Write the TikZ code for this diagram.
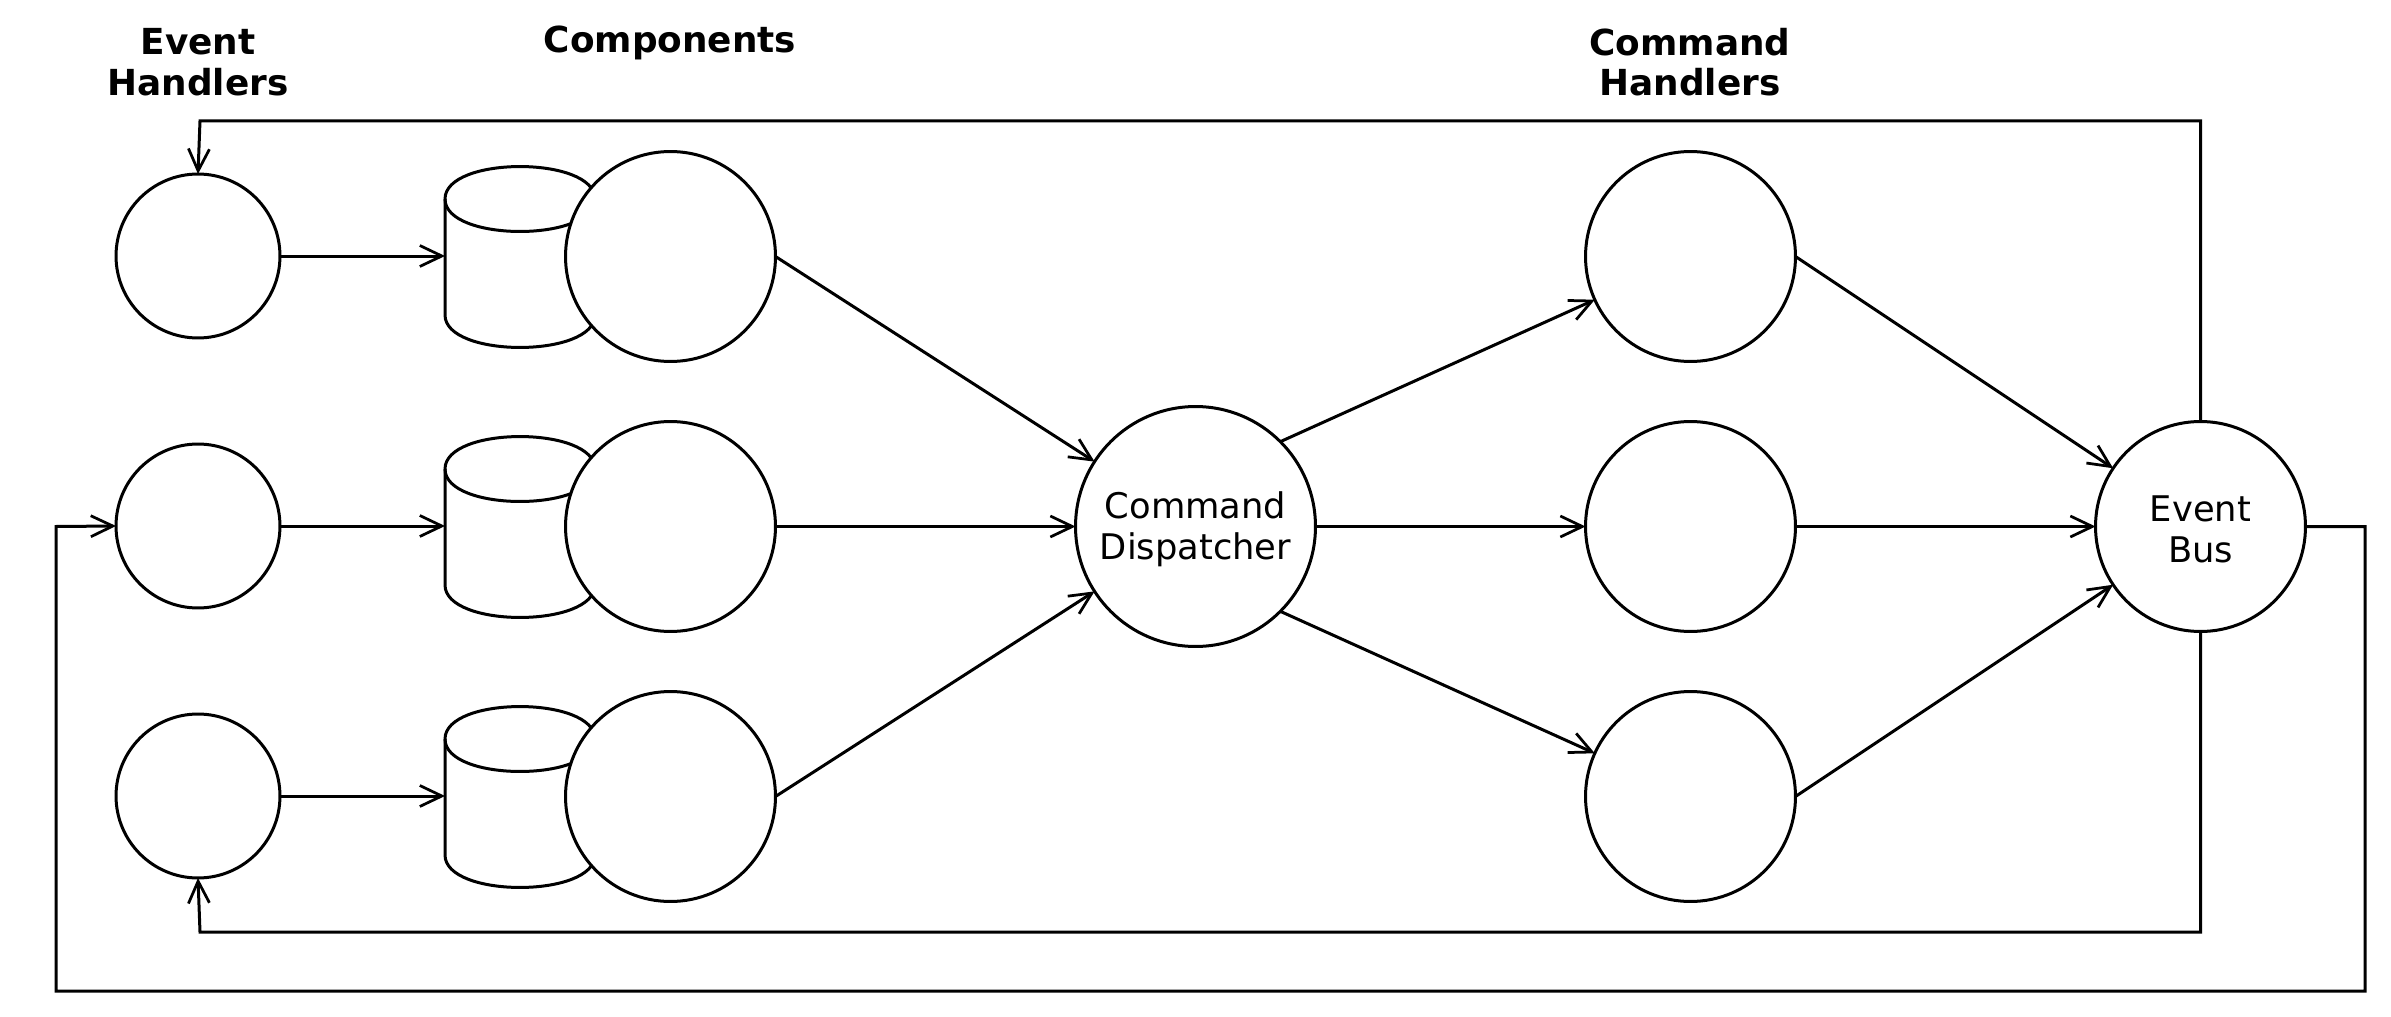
\documentclass[tikz,border=0pt]{standalone}
\usepackage{fontspec}
\setmainfont{DejaVu Sans}
\usetikzlibrary{arrows.meta}
\tikzset{
  x=0.02cm,y=-0.02cm,
  conn/.style={line width=0.06cm,-{Straight Barb[length=0.44cm,width=0.42cm,line width=0.055cm]}},
  evh/.style={circle,draw,line width=0.06cm,fill=white,minimum size=3.28cm,inner sep=0pt,outer sep=0pt},
  cmp/.style={circle,draw,line width=0.06cm,fill=white,minimum size=4.2cm,inner sep=0pt,outer sep=0pt},
  disp/.style={cmp,minimum size=4.8cm},
  lbl/.style={align=center,inner sep=0pt,yshift=-0.06cm,font=\fontsize{20.1pt}{23.2pt}\selectfont},
  store/.style={rectangle,minimum width=3cm,minimum height=3.62cm,inner sep=0pt,outer sep=0pt},
  drum/.style={draw,line width=0.06cm,fill=white},
  head/.style={align=center,inner sep=0pt,font=\fontsize{20.4pt}{23pt}\selectfont\bfseries}
}
\newcommand{\drumat}[1]{%
  \draw[drum] ([yshift=-0.65cm]#1.north west)
    .. controls ([yshift=0.216cm]#1.north west) and ([yshift=0.216cm]#1.north east) .. ([yshift=-0.65cm]#1.north east)
    -- ([yshift=0.65cm]#1.south east)
    .. controls ([yshift=-0.216cm]#1.south east) and ([yshift=-0.216cm]#1.south west) .. ([yshift=0.65cm]#1.south west)
    -- cycle;
  \draw[line width=0.06cm] ([yshift=-0.65cm]#1.north west)
    .. controls ([yshift=-1.516cm]#1.north west) and ([yshift=-1.516cm]#1.north east) .. ([yshift=-0.65cm]#1.north east);
}
\begin{document}
\begin{tikzpicture}
\useasboundingbox (0,0) rectangle (2391,1017);
\fill[white] (0,0) rectangle (2391,1017);
\node[head] (t1) at (198,62) {Event\\Handlers};
\node[head] (t2) at (670,43) {Components};
\node[head] (t3) at (1690,62) {Command\\Handlers};

\node[evh] (e1) at (198,256) {};
\node[evh] (e2) at (198,526) {};
\node[evh] (e3) at (198,796) {};

\node[store] (s1) at (520,257) {};
\node[store] (s2) at (520,527) {};
\node[store] (s3) at (520,797) {};
\drumat{s1}\drumat{s2}\drumat{s3}

\node[cmp] (c1) at (670.5,256.5) {};
\node[cmp] (c2) at (670.5,526.5) {};
\node[cmp] (c3) at (670.5,796.5) {};

\node[disp,label={[lbl]center:{Command\\Dispatcher}}] (d) at (1195.5,526.5) {};

\node[cmp] (h1) at (1690.5,256.5) {};
\node[cmp] (h2) at (1690.5,526.5) {};
\node[cmp] (h3) at (1690.5,796.5) {};

\node[cmp,label={[lbl]center:{Event\\Bus}}] (b) at (2200.5,526.5) {};

\coordinate (tl) at (200,121);
\coordinate (tr) at (2200.5,121);
\coordinate (ml) at (200,932);
\coordinate (mr) at (2200.5,932);
\coordinate (r1) at (2365,526.5);
\coordinate (r2) at (2365,991);
\coordinate (l2) at (56,991);
\coordinate (l1) at (56,526.5);

\draw[conn] (e1.east) -- (s1.west |- e1.east);
\draw[conn] (e2.east) -- (s2.west |- e2.east);
\draw[conn] (e3.east) -- (s3.west |- e3.east);

\draw[conn] (c1.east) -- (d);
\draw[conn] (c2.east) -- (d.west);
\draw[conn] (c3.east) -- (d);

\draw[conn] (d.45) -- (h1);
\draw[conn] (d.east) -- (h2.west);
\draw[conn] (d.-45) -- (h3);

\draw[conn] (h1.east) -- (b);
\draw[conn] (h2.east) -- (b.west);
\draw[conn] (h3.east) -- (b);

\draw[conn] (b.north) -- (tr) -- (tl) -- (e1.north);
\draw[conn] (b.south) -- (mr) -- (ml) -- (e3.south);
\draw[conn] (b.east) -- (r1) -- (r2) -- (l2) -- (l1) -- (e2.west);
\end{tikzpicture}
\end{document}
